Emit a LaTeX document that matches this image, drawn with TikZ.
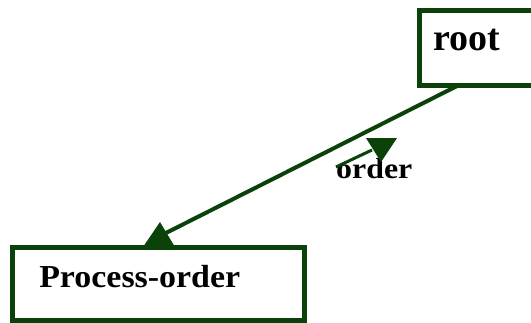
\documentclass[tikz,border=0pt]{standalone}
\usepackage{fontspec}
\setmainfont{Liberation Serif}
\usepackage{tikz}
\usetikzlibrary{calc,positioning}
\definecolor{edgegreen}{RGB}{10,66,10}
\tikzset{
  classbox/.style={draw=edgegreen, line width=4.5pt, fill=white, rectangle, anchor=north west, align=left, inner ysep=6pt, font=\bfseries},
  edge/.style={draw=edgegreen, line width=4pt},
  tipfill/.style={fill=edgegreen}
}

\begin{document}
\begin{tikzpicture}[x=1pt, y=-1pt]
    \useasboundingbox (0,0) rectangle (531,322);
    \clip (0,0) rectangle (531,322);
    % the two boxes
    \node[classbox, inner xsep=14pt, text width=120pt, text height=34pt, text depth=29pt,
          font=\bfseries\fontsize{38}{40}\selectfont] (root) at (417,8) {root};
    \node[classbox, inner xsep=27pt, text width=238pt, text height=34pt, text depth=27pt,
          font=\bfseries\fontsize{32}{34}\selectfont\addfontfeature{FakeStretch=1.06}] (procorder) at (10,245) {Process-order};
    % link with its head
    \coordinate (tail) at ($(root.south west)+(41,-2)$);
    \coordinate (tip) at ($(procorder.north west)+(150,-9)$);
    \draw[edge] (tail) -- (tip);
    \fill[tipfill] ($(procorder.north west)+(133,2)$) -- ($(procorder.north west)+(165,2)$)
        -- ($(procorder.north west)+(150,-23)$) -- cycle;
    % role name
    \node[anchor=base west, inner sep=0pt, font=\bfseries\fontsize{29}{30}\selectfont\addfontfeature{FakeStretch=1.1}] (ordlbl) at (336,178) {order};
    \coordinate (rolestart) at ($(ordlbl.base west)+(0,-11)$);
    \coordinate (roleend) at ($(ordlbl.base west)+(36,-28)$);
    \draw[edgegreen, line width=3pt] (rolestart) -- (roleend);
    \fill[tipfill] ($(ordlbl.base west)+(30,-40)$) -- ($(ordlbl.base west)+(61,-40)$)
        -- ($(ordlbl.base west)+(45,-16)$) -- cycle;
\end{tikzpicture}
\end{document}
